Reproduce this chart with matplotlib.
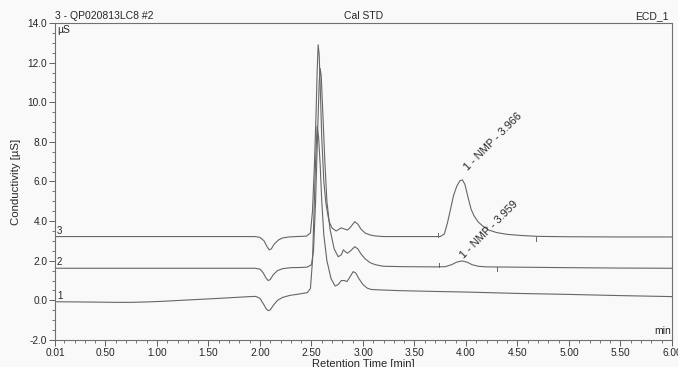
"""Ion chromatogram overlay (Cal STD, ECD_1) redrawn with matplotlib."""

import matplotlib
matplotlib.use("Agg")
import matplotlib.pyplot as plt
import numpy as np
from matplotlib.ticker import MultipleLocator, FixedLocator

plt.rcParams['font.family'] = ['Liberation Sans', 'DejaVu Sans']

# Trace 1 (offset 0)
T1_TIME = [0.01, 0.25, 0.45, 0.60, 0.75, 0.90, 1.05, 1.30, 1.60, 1.90, 1.96, 2.00, 2.03,
           2.06, 2.08, 2.10, 2.13, 2.17, 2.22, 2.29, 2.38, 2.46, 2.49, 2.51, 2.525, 2.54,
           2.555, 2.57, 2.585, 2.60, 2.62, 2.65, 2.69, 2.73, 2.76, 2.79, 2.82, 2.845,
           2.87, 2.905, 2.93, 2.96, 3.00, 3.04, 3.08, 3.15, 3.36, 3.70, 4.00, 4.50, 5.00,
           5.50, 6.00]
T1_VALUE = [-0.07, -0.08, -0.09, -0.10, -0.10, -0.08, -0.05, 0.02, 0.10, 0.19, 0.20, 0.10,
            -0.15, -0.42, -0.52, -0.48, -0.25, 0.00, 0.15, 0.25, 0.32, 0.39, 0.60, 2.0,
            4.5, 7.0, 8.8, 8.2, 6.8, 5.0, 3.3, 2.0, 1.1, 0.72, 0.80, 1.00, 1.00, 0.95,
            1.15, 1.45, 1.38, 1.10, 0.80, 0.62, 0.55, 0.53, 0.49, 0.45, 0.42, 0.35, 0.30,
            0.24, 0.19]

# Trace 2 (offset ~1.6)
T2_TIME = [0.01, 1.00, 1.95, 2.00, 2.03, 2.06, 2.08, 2.10, 2.13, 2.17, 2.22, 2.30, 2.40,
           2.46, 2.50, 2.52, 2.54, 2.56, 2.575, 2.585, 2.595, 2.61, 2.63, 2.65, 2.68, 2.72,
           2.76, 2.79, 2.81, 2.83, 2.85, 2.88, 2.92, 2.95, 2.98, 3.02, 3.07, 3.12, 3.20,
           3.40, 3.70, 3.80, 3.86, 3.91, 3.96, 4.01, 4.06, 4.12, 4.20, 4.40, 5.00, 5.50, 6.00]
T2_VALUE = [1.62, 1.62, 1.62, 1.58, 1.40, 1.12, 1.00, 1.05, 1.30, 1.50, 1.60, 1.65, 1.66,
            1.68, 1.80, 2.5, 5.0, 8.5, 11.0, 11.7, 11.3, 9.5, 7.0, 5.0, 3.6, 2.6,
            2.2, 2.3, 2.55, 2.45, 2.38, 2.50, 2.71, 2.60, 2.35, 2.10, 1.90, 1.80, 1.72,
            1.70, 1.69, 1.70, 1.80, 1.93, 1.99, 1.93, 1.80, 1.72, 1.69, 1.68, 1.65, 1.63, 1.62]

# Trace 3 (offset ~3.2)
T3_TIME = [0.01, 1.00, 1.95, 2.00, 2.04, 2.07, 2.09, 2.11, 2.14, 2.18, 2.22, 2.28, 2.35,
           2.45, 2.49, 2.51, 2.53, 2.545, 2.555, 2.565, 2.575, 2.585, 2.60, 2.62, 2.64,
           2.67, 2.70, 2.74, 2.77, 2.79, 2.82, 2.85, 2.88, 2.92, 2.95, 2.98, 3.02, 3.07,
           3.12, 3.20, 3.40, 3.60, 3.75, 3.79, 3.82, 3.85, 3.88, 3.91, 3.94, 3.965, 3.99,
           4.02, 4.05, 4.08, 4.12, 4.17, 4.22, 4.30, 4.40, 4.55, 4.70, 5.00, 5.50, 6.00]
T3_VALUE = [3.22, 3.22, 3.22, 3.18, 3.00, 2.70, 2.55, 2.60, 2.85, 3.05, 3.15, 3.20, 3.22,
            3.24, 3.40, 4.5, 7.0, 9.5, 11.5, 12.9, 12.4, 10.8, 8.2, 6.0, 4.9,
            4.0, 3.65, 3.50, 3.60, 3.66, 3.60, 3.55, 3.70, 3.97, 3.85, 3.60, 3.40, 3.30,
            3.25, 3.22, 3.22, 3.22, 3.22, 3.35, 3.90, 4.60, 5.30, 5.75, 6.03, 6.08, 5.85,
            5.20, 4.60, 4.25, 3.95, 3.72, 3.55, 3.42, 3.33, 3.27, 3.23, 3.21, 3.20, 3.20]

TRACES = [(T1_TIME, T1_VALUE), (T2_TIME, T2_VALUE), (T3_TIME, T3_VALUE)]
TRACE_LABELS = ['1', '2', '3']

# Peak annotations
PEAK_LABELS = ['1 - NMP - 3.966', '1 - NMP - 3.959']
PEAK_TIMES = [4.03, 3.99]
PEAK_ANCHORS = [6.45, 2.0]

# Peak delimiters
DELIM_TIMES = [3.73, 4.68, 3.74, 4.30]
DELIM_BASES = [3.22, 3.21, 1.69, 1.68]
DELIM_SIDE = [1, -1, 1, -1]

X_TICKS = [0.01, 0.5, 1.0, 1.5, 2.0, 2.5, 3.0, 3.5, 4.0, 4.5, 5.0, 5.5, 6.0]
X_TICK_LABELS = ['0.01', '0.50', '1.00', '1.50', '2.00', '2.50', '3.00', '3.50',
                 '4.00', '4.50', '5.00', '5.50', '6.00']
Y_TICKS = [-2, 0, 2, 4, 6, 8, 10, 12, 14]

LINE_COLOR = '#666666'
TEXT_COLOR = '#262626'
BG = '#f9f9f9'

fig = plt.figure(figsize=(6.78, 3.67), dpi=100, facecolor=BG)
ax = fig.add_axes([0.0811, 0.0736, 0.9100, 0.8638], facecolor=BG)

for (t, v) in TRACES:
    ax.plot(t, v, color=LINE_COLOR, linewidth=0.8, solid_joinstyle='round')

# trace numbers at the left end
for lab, (t, v) in zip(TRACE_LABELS, TRACES):
    ax.text(0.03, v[0] + 0.05, lab, fontsize=7, color=TEXT_COLOR, ha='left', va='bottom')

# peak delimiters
for t, b, s in zip(DELIM_TIMES, DELIM_BASES, DELIM_SIDE):
    ax.plot([t, t], [b, b + s * 0.2], color=LINE_COLOR, linewidth=0.7)

# peak labels
for lab, t, v in zip(PEAK_LABELS, PEAK_TIMES, PEAK_ANCHORS):
    ax.text(t, v, lab, fontsize=7.9, rotation=45, rotation_mode='anchor',
            ha='left', va='bottom', color=TEXT_COLOR)

ax.set_xlim(0.01, 6.0)
ax.set_ylim(-2, 14)

ax.xaxis.set_major_locator(FixedLocator(X_TICKS))
ax.set_xticklabels(X_TICK_LABELS)
ax.xaxis.set_minor_locator(FixedLocator(np.arange(0.1, 6.0, 0.1)))
ax.set_yticks(Y_TICKS)
ax.set_yticklabels([f'{y:.1f}' for y in Y_TICKS])
ax.yaxis.set_minor_locator(MultipleLocator(0.5))

ax.tick_params(which='major', length=4, width=0.7, color='#606060',
               labelsize=7.3, labelcolor=TEXT_COLOR, pad=1.5)
ax.tick_params(which='minor', length=2, width=0.6, color='#606060')

for sp in ax.spines.values():
    sp.set_color('#707070')
    sp.set_linewidth(0.8)

ax.set_ylabel('Conductivity [µS]', fontsize=8.2, color=TEXT_COLOR, labelpad=5)
ax.set_xlabel('Retention Time [min]', fontsize=8, color=TEXT_COLOR, labelpad=1)

# header line above the plot
ax.text(0.0, 1.005, '3 - QP020813LC8 #2', transform=ax.transAxes, fontsize=7.5,
        ha='left', va='bottom', color=TEXT_COLOR)
ax.text(0.5, 1.005, 'Cal STD', transform=ax.transAxes, fontsize=7.5,
        ha='center', va='bottom', color=TEXT_COLOR)
ax.text(0.995, 1.005, 'ECD_1', transform=ax.transAxes, fontsize=7.5,
        ha='right', va='bottom', color=TEXT_COLOR)
ax.text(0.003, 0.995, 'µS', transform=ax.transAxes, fontsize=7.5,
        ha='left', va='top', color=TEXT_COLOR)
ax.text(0.998, 0.012, 'min', transform=ax.transAxes, fontsize=7.5,
        ha='right', va='bottom', color=TEXT_COLOR)

plt.savefig('out.png', dpi=100, facecolor=BG)
plt.close()
